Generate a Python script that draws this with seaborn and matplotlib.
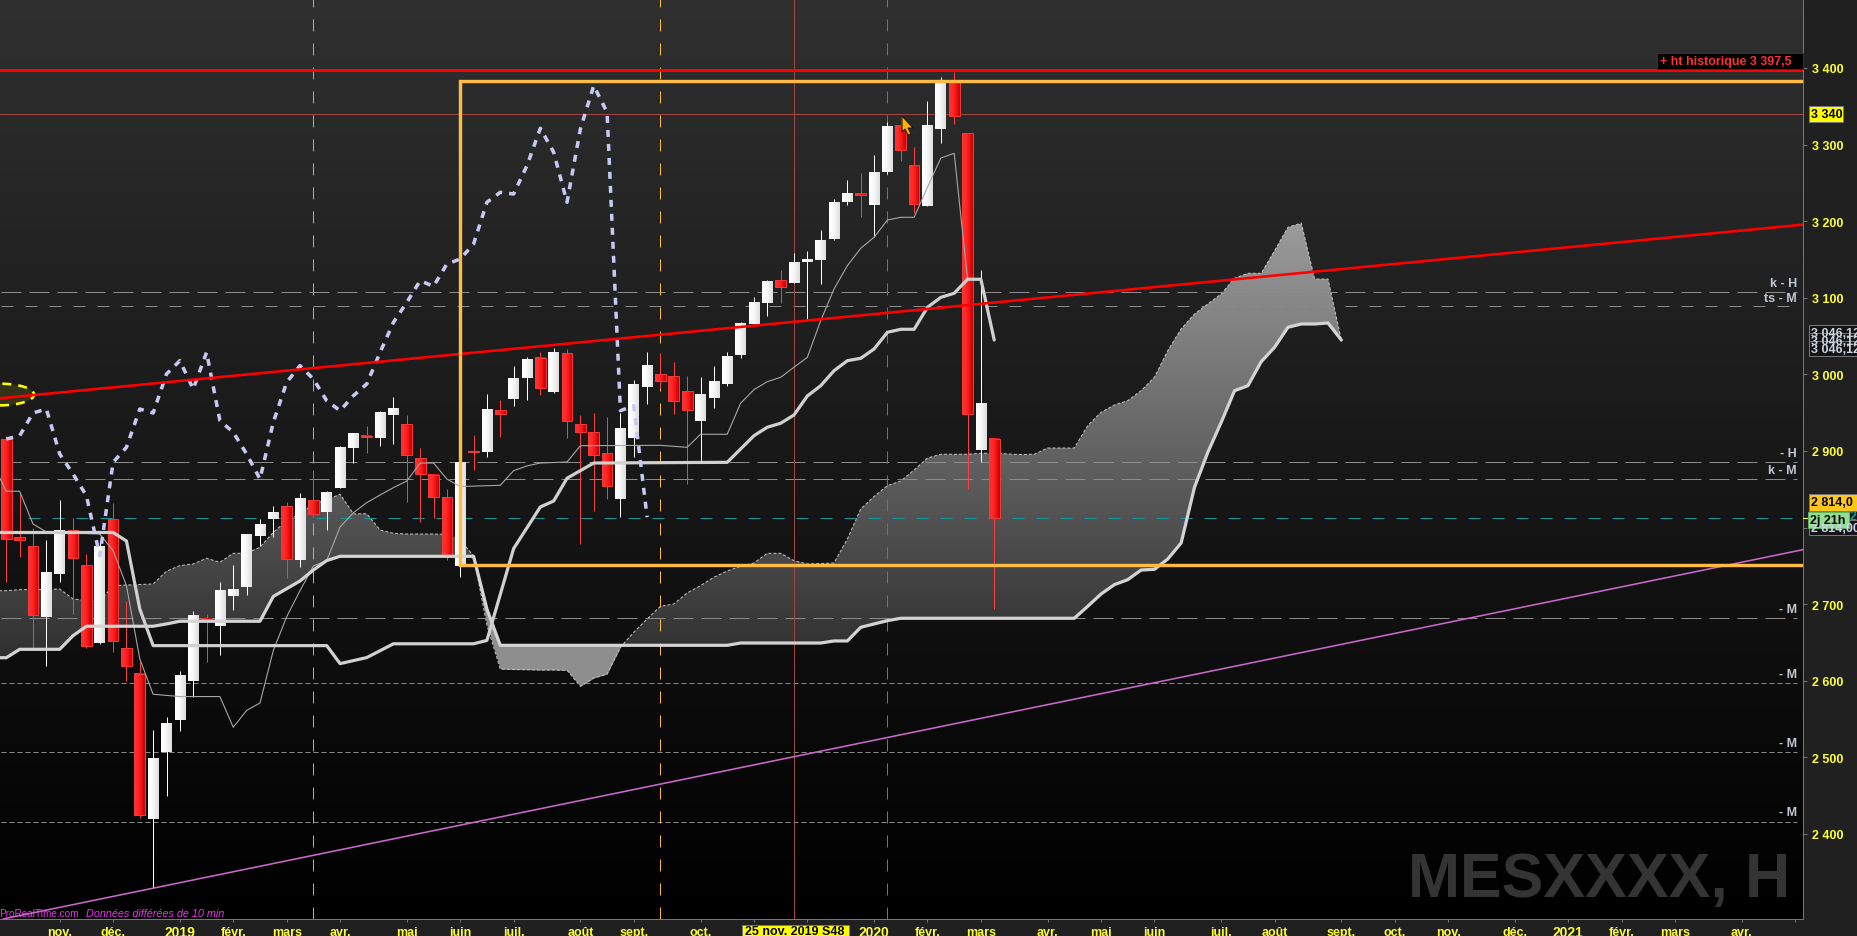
import numpy as np
import pandas as pd
import matplotlib
matplotlib.use("Agg")
import matplotlib.pyplot as plt
import seaborn as sns
from matplotlib.patches import Ellipse, Polygon, Rectangle
from matplotlib.path import Path

W, H = 1857, 937

# weekly candles, index 0 to 74
candle_open = [2915.6, 2787.3, 2775.5, 2683.6, 2740, 2796.4, 2750.7, 2649.3, 2810.8, 2642.3,
               2608.8, 2419.9, 2507, 2549, 2599.4, 2681, 2671.4, 2710.9, 2722.4, 2789,
               2811.1, 2827.8, 2757.7, 2835.6, 2820.3, 2851.7, 2903.9, 2920.2, 2917.2, 2947,
               2935.2, 2890.8, 2869.3, 2839.5, 2749.8, 2900, 2899.2, 2953, 2968.3, 2995.3,
               3021, 2977.4, 3027.5, 2934.8, 2924.4, 2896.9, 2837.3, 2917.3, 2983.9, 3000.1,
               2997.5, 2977.9, 2939.5, 2969.6, 2987.8, 3025.7, 3065.8, 3093.2, 3122.8, 3119.7,
               3147.1, 3149.7, 3177.1, 3225.4, 3236.4, 3221.5, 3264.6, 3323.9, 3272.9, 3220.2,
               3320.8, 3381.3, 3314.7, 2901.6, 2915.2]
candle_high = [2919.6, 2843.8, 2799.4, 2783.3, 2836, 2812, 2765, 2782.5, 2831.7, 2703.8,
               2625.8, 2535.3, 2552.7, 2612.7, 2690.8, 2686.9, 2728.9, 2751.1, 2791.6, 2811.6,
               2828.7, 2833.4, 2845.1, 2875.7, 2848.3, 2906.5, 2923.5, 2932.6, 2952.5, 2970.5,
               2947, 2903.9, 2869.9, 2850.4, 2884.3, 2920.9, 2974.4, 2966.6, 3010.9, 3022.3,
               3028.8, 3034.4, 3033.1, 2947, 2949.6, 2943.9, 2949.6, 2992.3, 3028.8, 3027.9,
               3016.2, 2997.9, 2996.6, 3010.9, 3028.8, 3068, 3101, 3123.6, 3136.3, 3158.5,
               3160.7, 3188.5, 3228.9, 3253.8, 3262.9, 3286.4, 3329.1, 3337.7, 3296.8, 3356.8,
               3388.2, 3395.1, 3315.1, 3136.3, 2915.2]
candle_low = [2729.3, 2762, 2643.1, 2619.7, 2729.3, 2687.1, 2643.1, 2648.3, 2637.9, 2600.1,
              2420.8, 2329, 2449.8, 2535, 2579.3, 2624.3, 2633.6, 2692.3, 2712, 2775.9,
              2787.7, 2733.9, 2748.6, 2813.2, 2796.8, 2851.7, 2884.3, 2897.4, 2906.5, 2909.1,
              2833.4, 2807.3, 2812.5, 2757.7, 2735.4, 2875.7, 2892.8, 2918.3, 2959.1, 2967,
              2973.5, 2975.7, 2917.3, 2778.9, 2821.6, 2837.3, 2813.8, 2892.5, 2961.7, 2981.8,
              2948.6, 2857.3, 2885.2, 2956.1, 2984.5, 3021.8, 3065.8, 3076.6, 3093.6, 3119.3,
              3071.9, 3118.4, 3175.8, 3221.5, 3205.9, 3178.9, 3261.5, 3278.9, 3210.7, 3220.2,
              3302.5, 3326.8, 2850.7, 2886, 2693.7]
candle_close = [2785.5, 2784.1, 2686.2, 2741.6, 2796.4, 2759.9, 2646, 2775.9, 2652.3, 2618.9,
                2424.7, 2498.6, 2544.2, 2607.2, 2684.5, 2679.6, 2717.2, 2719.8, 2790.3, 2804.6,
                2819, 2759.4, 2838.6, 2818, 2846.4, 2905.2, 2922.2, 2918.3, 2950.9, 2956.1,
                2895.3, 2870.3, 2840.4, 2763.3, 2884.3, 2898.9, 2954.8, 2948.6, 2994.9, 3020,
                2981.8, 3028.8, 2939.5, 2924.4, 2895.1, 2854.7, 2929.6, 2987, 3012.2, 2991.8,
                2965.6, 2953.1, 2974, 2991, 3023.6, 3066.7, 3094.1, 3121.9, 3114.5, 3146.3,
                3150.2, 3175, 3224.6, 3236.4, 3234.6, 3263.8, 3323.9, 3292.5, 3222.8, 3325.2,
                3381.3, 3337.7, 2948.6, 2962.6, 2812]

# cloud edges, index -1 to 100
span_a = [2717.6, 2717.6, 2718.9, 2719.2, 2719.2, 2719.8, 2706.8, 2704.6, 2703.8, 2724.2, 2725,
          2725.7, 2726.4, 2743, 2750.3, 2752.5, 2759.9, 2754.7, 2766.4, 2766.4, 2774.3,
          2793.8, 2809, 2817.8, 2830.8, 2836, 2843.5, 2818, 2818, 2796.8, 2792.5,
          2791.6, 2791.6, 2791.6, 2791.1, 2783.8, 2762.9, 2672.8, 2615.4, 2614.7, 2614.5,
          2614.1, 2614.1, 2613.7, 2592.8, 2603.6, 2608.8, 2643.7, 2663.3, 2680.7, 2697.2,
          2700.2, 2714.6, 2724.2, 2735.1, 2743.3, 2749.5, 2753.8, 2766.4, 2766.4, 2756.8,
          2752.5, 2753.1, 2753.8, 2785.1, 2824.3, 2840.6, 2854.7, 2860.8, 2875.2, 2890.8,
          2895.7, 2895.7, 2895.7, 2897, 2897, 2896.1, 2895.4, 2895.7, 2903.9, 2903.9,
          2903.9, 2933, 2950.5, 2960, 2965.7, 2978.7, 2996.2, 3031, 3059.3, 3078.8,
          3091.9, 3105, 3125.5, 3132, 3132, 3161.5, 3192, 3197.6, 3124.5, 3124.5, 3044.9]
span_b = [2630.1, 2630.1, 2641.1, 2641.1, 2641.1, 2641.1, 2658.9, 2671.2, 2671.2, 2671.2, 2671.2,
          2671.2, 2671.2, 2674.2, 2677.7, 2677.7, 2677.7, 2677.7, 2677.7, 2677.7, 2677.7,
          2710.1, 2720.2, 2730.3, 2744.6, 2756.9, 2762.5, 2762.5, 2762.5, 2762.5, 2762.5,
          2762.5, 2762.5, 2762.5, 2762.5, 2762.5, 2762.5, 2693.7, 2646.3, 2646.3, 2646.3,
          2646.3, 2646.3, 2646.3, 2646.3, 2646.3, 2646.3, 2646.3, 2646.3, 2646.3, 2646.3,
          2646.3, 2646.3, 2646.3, 2646.3, 2646.3, 2649.3, 2649.3, 2649.3, 2649.3, 2649.3,
          2649.3, 2649.3, 2652, 2652, 2669.8, 2674.2, 2678.5, 2681.6, 2681.6, 2681.6,
          2681.6, 2681.6, 2681.6, 2681.6, 2681.6, 2681.6, 2681.6, 2681.6, 2681.6, 2681.6,
          2681.6, 2697.2, 2713.3, 2725.5, 2732, 2744.6, 2745.5, 2759, 2779.9, 2852.6,
          2898.3, 2937.4, 2978.7, 2985.2, 3016.6, 3035.4, 3061.5, 3065.8, 3065.8, 3067.1, 3044.9]

# thick base line
kijun_x = [-1, 8, 9, 10, 11, 24, 25, 27, 29, 35, 36, 38, 40, 41, 42, 44, 54, 55, 56, 57, 58, 59,
           60, 61, 62, 63, 64, 65, 66, 67, 68, 69, 70, 71, 72, 73, 74]
kijun_y = [2793.6, 2793.6, 2782.5, 2693.7, 2645.9, 2645.9, 2622.4, 2630.3, 2648.3, 2648.3, 2652.7,
           2772.6, 2826.9, 2834.7, 2864.4, 2884.3, 2885.2, 2902.6, 2919.9, 2931, 2936.2, 2947,
           2971.8, 2985.2, 3004.8, 3017.9, 3021, 3033.2, 3055, 3058.9, 3058.9, 3087.6, 3100.6,
           3105.9, 3124.2, 3124.2, 3044.9]

# thin conversion line
tenkan_x = [-1, 0, 1, 2, 3, 7, 8, 9, 10, 11, 13, 16, 17, 18, 19, 20, 21, 22, 23, 24, 25, 26, 27, 28,
            29, 30, 31, 32, 33, 34, 37, 38, 39, 40, 42, 43, 49, 51, 52, 54, 55, 56, 57, 58, 59,
            60, 61, 62, 63, 64, 65, 66, 67, 68, 69, 70, 71, 72]
tenkan_y = [2883, 2847.4, 2847.4, 2804.7, 2794.3, 2791.6, 2769.8, 2724.2, 2628.4, 2582.4, 2579.4,
            2579.4, 2539.3, 2561.3, 2571, 2639.5, 2683.6, 2717.7, 2749.9, 2756.9, 2800.8, 2819.4,
            2832.6, 2842.6, 2852.2, 2860.8, 2884.3, 2884.3, 2863.4, 2853.6, 2855.2, 2874.3, 2880.5,
            2884.3, 2885.6, 2906.9, 2907.4, 2904.8, 2921.8, 2921.8, 2962.3, 2980, 2990.5, 2996.2,
            3009.3, 3022.3, 3070.1, 3111.5, 3141.9, 3164.6, 3179, 3201.6, 3205.1, 3205.1, 3244.3,
            3282.5, 3288.6, 3124.5]

# lagging line, index 0 to 48
chikou_y = [2915.6, 2919.9, 2949.6, 2954.8, 2896.1, 2870, 2841.6, 2763.3, 2885.2, 2904.8, 2954.8,
            2949.6, 3000.5, 3017.9, 2980.9, 3028.8, 2939.6, 2924.4, 2896.1, 2863.4, 2937.5, 2989.7,
            3011.4, 2994, 2965.6, 2952.6, 2972.2, 2987.5, 3028.8, 3068, 3094.1, 3122.3, 3115,
            3144.1, 3150.6, 3170.2, 3224.7, 3237.7, 3235.5, 3272.5, 3321.3, 3290, 3224.7, 3320.4,
            3376.9, 3342.2, 2952.6, 2959.1, 2813.5]

# drawn objects
hist_high = 3397.5
cross_price = 3340
cross_index = 59
trend_red_x = [-0.47, 134.58]
trend_red_y = [2968.8, 3195.5]
trend_purple_x = [-0.25, 134.58]
trend_purple_y = [2289, 2771.2]
box_index = 34
box_top = 3382.6
box_bottom = 2750.8
vline_index = [23, 49, 66]
vline_colors = ["#6cc0f0", "#ffbb44", "#e820e8"]

level_prices = [3107.2, 3088.9, 2885.2, 2863, 2681.6]
level_dash = [(20, 8), (12, 12), (20, 8), (20, 8), (20, 8)]
dotted_prices = [2596.5, 2506.5, 2415]
last_price = 2812.1

y_ticks = [2400, 2500, 2600, 2700, 2800, 2900, 3000, 3100, 3200, 3300, 3400]
y_tick_labels = ["2 400", "2 500", "2 600", "2 700", "", "2 900", "3 000", "3 100", "3 200", "3 300", "3 400"]
x_ticks = [4, 8, 13, 17, 21, 25, 30, 34, 38, 43, 47, 52, 56, 60, 65, 69, 73, 78, 82, 86, 91, 95,
           100, 104, 108, 113, 117, 121, 125, 130, 134]
x_tick_labels = ["nov.", "déc.", "2019", "févr.", "mars", "avr.", "mai", "juin", "juil.", "août",
                 "sept.", "oct.", "", "", "2020", "févr.", "mars", "avr.", "mai", "juin", "juil.",
                 "août", "sept.", "oct.", "nov.", "déc.", "2021", "févr.", "mars", "avr.", ""]

sns.set_theme(style="dark", rc={"lines.scale_dashes": False, "axes.grid": False})
plt.rcParams["font.family"] = ["Liberation Sans", "DejaVu Sans"]

YELLOW = "#ffff33"
PX = 0.72  # one pixel in points at dpi 100


def fx(x):
    return x / W


def fy(y):
    return 1 - y / H


def box(fig, x0, y0, x1, y1, face, edge="none", z=4):
    fig.add_artist(Rectangle((fx(x0), fy(y1)), (x1 - x0) / W, (y1 - y0) / H,
                             transform=fig.transFigure, facecolor=face, edgecolor=edge,
                             linewidth=PX, zorder=z))


def label(fig, x, y, s, color, size=9, ha="left", weight="bold", style="normal", z=5):
    fig.text(fx(x), fy(y), s, color=color, fontsize=size, ha=ha, va="center",
             fontweight=weight, fontstyle=style, zorder=z)


fig = plt.figure(figsize=(W / 100, H / 100), dpi=100, facecolor="#202020")
ax = fig.add_axes([0, fy(920), 1803 / W, 920 / H])
x_lim = (-0.472, 134.58)
y_lim = (2289.0, 3490.08)

# background gradient
bg = np.linspace(48, 0, 256)[:, None].repeat(3, axis=1)[:, None, :] / 255
ax.imshow(bg, extent=(*x_lim, *y_lim), aspect="auto", zorder=0, origin="upper", interpolation="bilinear")

# cloud
cloud_x = np.arange(-1, 101)
a = np.array(span_a)
b = np.array(span_b)
poly = ax.fill_between(cloud_x, a, b, where=a >= b, interpolate=True, facecolor="none", edgecolor="none")
shade = np.linspace(155, 40, 256)[:, None].repeat(3, axis=1)[:, None, :] / 255
cloud_img = ax.imshow(shade, extent=(x_lim[0], x_lim[1], 2589, 3196), aspect="auto", zorder=1,
                      origin="upper", interpolation="bilinear")
cloud_img.set_clip_path(Path.make_compound_path(*poly.get_paths()), ax.transData)
ax.fill_between(cloud_x, a, b, where=a < b, interpolate=True, color="#8e8e8e", linewidth=0, zorder=1)
sns.lineplot(x=cloud_x, y=a, ax=ax, color="#c4c4c4", linewidth=1 * PX, errorbar=None, sort=False,
             linestyle=(0, (3 * PX, 2 * PX)), zorder=1.5)

# levels
for price, dash in zip(level_prices, level_dash):
    ax.plot([-0.4, 134.1], [price, price], color="#8c8c8c", linewidth=PX, zorder=1.6, snap=True,
            linestyle=(0, (dash[0] * PX, dash[1] * PX)))
for price in dotted_prices:
    ax.plot([-0.4, 134.1], [price, price], color="#8c8c8c", linewidth=PX, zorder=1.6, snap=True,
            linestyle=(0, (5 * PX, 3 * PX)))
ax.plot([1.6, 134.1], [last_price, last_price], color="#149a9a", linewidth=PX, zorder=1.6, snap=True,
        linestyle=(0, (12 * PX, 12 * PX)))

# vertical markers and crosshair
for idx, col in zip(vline_index, vline_colors):
    ax.plot([idx, idx], [y_lim[1], y_lim[0]], color=col, linewidth=PX, zorder=1.7, snap=True,
            linestyle=(4 * PX, (12 * PX, 12 * PX)))
ax.axhline(cross_price, color="#a04840", linewidth=PX, zorder=1.7, snap=True)
ax.axvline(cross_index, color="#a04840", linewidth=PX, zorder=1.7, snap=True)

# ellipse
ax.add_patch(Ellipse((-0.47, 2973.7), 5.1, 28.3, facecolor="#33331a", edgecolor="#ffff00",
                     linewidth=2.6 * PX, linestyle=(0, (9 * PX, 7 * PX)), zorder=1.8))

# candles
df = pd.DataFrame({"open": candle_open, "high": candle_high, "low": candle_low, "close": candle_close})
df["idx"] = df.index
df["up"] = df["close"] >= df["open"]
df["top"] = df[["open", "close"]].max(axis=1)
df["bot"] = df[["open", "close"]].min(axis=1)
WICK_RED = "#f84040"
wicks = ax.vlines(df["idx"], df["low"], df["high"], colors=np.where(df["up"], "#ffffff", WICK_RED),
                  linewidth=PX, zorder=2)
wicks.set_snap(True)
red_grad = np.array([[[255, 48, 48], [255, 42, 42], [250, 32, 32], [235, 18, 18], [205, 4, 4]]]) / 255
white_grad = np.array([[[255, 255, 255], [252, 252, 252], [246, 246, 246], [236, 236, 236], [224, 224, 224]]]) / 255
for row in df.itertuples():
    grad = white_grad if row.up else red_grad
    ax.imshow(grad, extent=(row.idx - 0.4, row.idx + 0.4, row.bot, row.top), aspect="auto", zorder=2.2,
              interpolation="bilinear")
reds = df[~df["up"]]
ax.bar(reds["idx"], reds["top"] - reds["bot"], bottom=reds["bot"], width=0.8, facecolor="none",
       edgecolor="#f03a3a", linewidth=PX, zorder=2.3)

# ichimoku lines on top of the candles
sns.lineplot(x=tenkan_x, y=tenkan_y, ax=ax, color="#a8a8a8", linewidth=1.1 * PX, errorbar=None, sort=False, zorder=2.5)
sns.lineplot(x=cloud_x, y=b, ax=ax, color="#d4d4d4", linewidth=3.2 * PX, errorbar=None, sort=False, zorder=2.6)
sns.lineplot(x=kijun_x, y=kijun_y, ax=ax, color="#d0d0d0", linewidth=3.2 * PX, errorbar=None, sort=False, zorder=2.6)
sns.lineplot(x=np.arange(len(chikou_y)), y=chikou_y, ax=ax, color="#c8c8f4", linewidth=3.5 * PX, errorbar=None,
             sort=False, linestyle=(0, (7 * PX, 7 * PX)), zorder=2.7)

# drawn trend lines and box
ax.axhline(hist_high, color="#ff0000", linewidth=3 * PX, zorder=3)
ax.plot(trend_red_x, trend_red_y, color="#ff0000", linewidth=2.6 * PX, zorder=3)
ax.plot(trend_purple_x, trend_purple_y, color="#c868c8", linewidth=1.6 * PX, zorder=3)
ax.plot([x_lim[1], box_index, box_index, x_lim[1]], [box_top, box_top, box_bottom, box_bottom],
        color="#ffbb44", linewidth=3.4 * PX, solid_joinstyle="miter", zorder=3)

# axes
ax.set_xlim(*x_lim)
ax.set_ylim(*y_lim)
ax.set_xlabel("")
ax.set_ylabel("")
ax.yaxis.tick_right()
ax.set_yticks(y_ticks, y_tick_labels)
ax.set_xticks(x_ticks, x_tick_labels)
ax.tick_params(axis="y", direction="out", length=4 * PX, width=PX, pad=5 * PX, colors="#777777",
               labelcolor=YELLOW, labelsize=9, right=True)
ax.tick_params(axis="x", direction="out", length=3 * PX, width=PX, pad=10 * PX, colors="#777777",
               labelcolor=YELLOW, labelsize=9, bottom=True)
for t in ax.get_yticklabels():
    t.set_fontweight("bold")
for t in ax.get_xticklabels():
    t.set_fontweight("bold")
    t.set_verticalalignment("center")
    if t.get_text() in ("2019", "2020", "2021"):
        t.set_fontsize(10)
for name in ("top", "left"):
    ax.spines[name].set_visible(False)
for name in ("right", "bottom"):
    ax.spines[name].set_color("#777777")
    ax.spines[name].set_linewidth(PX)

# watermark and delay notice
ax.text(1790 / 1803, 1 - 897 / 920, "MESXXXX, H", transform=ax.transAxes, color="#343434", fontsize=45,
        fontweight="bold", ha="right", va="baseline", zorder=0.5)
ax.text(-1 / 1803, 1 - 914 / 920, "ProRealTime.com", transform=ax.transAxes, color="#f030f0", fontsize=7.2,
        va="center", zorder=2.9)
ax.text(86 / 1803, 1 - 914 / 920, "Données différées de 10 min", transform=ax.transAxes, color="#f030f0",
        fontsize=7.8, fontstyle="italic", va="center", zorder=2.9)

# price tags on the right
box(fig, 1657, 53.5, 1802.5, 70, "#000000", "#701818")
label(fig, 1660, 62.5, "+ ht historique 3 397,5", "#ff3030")
box(fig, 1809, 107, 1843, 123, "#ffff00", "#777777")
label(fig, 1811, 115.5, "3 340", "#000000")
for yy, txt in [(284, "k - H"), (298.7, "ts - M"), (454, "- H"), (471, "k - M"), (610, "- M"),
                (675.5, "- M"), (744, "- M"), (813.5, "- M")]:
    label(fig, 1797, yy, txt, "#c0c8d0", ha="right")
for y0 in (326, 334, 342):
    box(fig, 1809, y0, 1860, y0 + 15, "#141414", "#777777")
    label(fig, 1811, y0 + 8, "3 046,12", "#c8d4e0")
box(fig, 1809, 512, 1860, 526, "#141414", "#777777")
label(fig, 1850, 517, "2 814,00", "#109a9a")
box(fig, 1809, 521, 1860, 536, "#141414", "#777777")
label(fig, 1811, 529, "2 814,00", "#d0d0f0")
box(fig, 1809, 495, 1860, 512, "#ffc818", "#777777")
label(fig, 1811, 503.5, "2 814,0", "#000000")
box(fig, 1808, 513, 1849, 529, "#90e090", "#60b060")
label(fig, 1810, 521, "2j 21h", "#000000")
fig.add_artist(Rectangle((fx(1803), fy(520)), 5 / W, 1 / H, transform=fig.transFigure, facecolor="#ffff33",
                         edgecolor="none", zorder=3))
box(fig, 742, 926, 848.5, 940, "#ffff00", "#777777")
label(fig, 795, 932, "25 nov. 2019 S48", "#000000", ha="center")

# mouse pointer
fig.add_artist(Polygon([(fx(902), fy(117)), (fx(913), fy(129)), (fx(908), fy(129)), (fx(911), fy(135)),
                        (fx(908), fy(136)), (fx(905), fy(130)), (fx(902), fy(133))],
                       closed=True, transform=fig.transFigure, facecolor="#ffb000", edgecolor="#201000",
                       linewidth=PX, zorder=3))

fig.savefig("out.png", dpi=100, facecolor=fig.get_facecolor())
